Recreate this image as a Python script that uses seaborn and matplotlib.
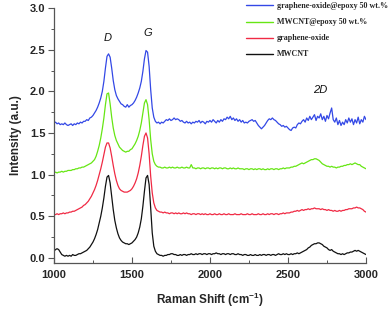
import matplotlib
matplotlib.use("Agg")
import matplotlib.pyplot as plt
import seaborn as sns
import pandas as pd
from matplotlib.ticker import MultipleLocator

shift = list(range(1000, 3001, 10))

mwcnt = [
    0.08, 0.10, 0.11, 0.10, 0.07, 0.04, 0.03, 0.02, 0.03, 0.02,
    0.03, 0.02, 0.04, 0.03, 0.03, 0.04, 0.05, 0.05, 0.06, 0.07,
    0.08, 0.09, 0.11, 0.13, 0.16, 0.19, 0.23, 0.28, 0.34, 0.42,
    0.50, 0.60, 0.72, 0.86, 0.97, 0.99, 0.90, 0.74, 0.58, 0.45,
    0.36, 0.29, 0.24, 0.21, 0.19, 0.18, 0.17, 0.17, 0.16, 0.17,
    0.18, 0.20, 0.22, 0.25, 0.30, 0.37, 0.47, 0.62, 0.80, 0.96,
    0.99, 0.88, 0.60, 0.30, 0.14, 0.08, 0.05, 0.04, 0.03, 0.03,
    0.02, 0.03, 0.03, 0.04, 0.04, 0.05, 0.05, 0.04, 0.04, 0.03,
    0.03, 0.04, 0.03, 0.04, 0.04, 0.03, 0.04, 0.04, 0.05, 0.04,
    0.04, 0.05, 0.04, 0.05, 0.05, 0.04, 0.05, 0.05, 0.04, 0.05,
    0.05, 0.04, 0.05, 0.05, 0.06, 0.05, 0.05, 0.04, 0.05, 0.05,
    0.04, 0.05, 0.05, 0.04, 0.05, 0.05, 0.04, 0.04, 0.05, 0.04,
    0.04, 0.03, 0.04, 0.04, 0.03, 0.03, 0.04, 0.03, 0.03, 0.04,
    0.03, 0.03, 0.04, 0.03, 0.04, 0.04, 0.03, 0.04, 0.04, 0.03,
    0.04, 0.04, 0.03, 0.04, 0.05, 0.04, 0.04, 0.05, 0.04, 0.05,
    0.04, 0.04, 0.05, 0.04, 0.05, 0.05, 0.06, 0.05, 0.06, 0.07,
    0.08, 0.09, 0.10, 0.12, 0.13, 0.15, 0.16, 0.17, 0.17, 0.18,
    0.18, 0.17, 0.16, 0.14, 0.13, 0.12, 0.10, 0.09, 0.10, 0.08,
    0.07, 0.06, 0.05, 0.05, 0.04, 0.05, 0.04, 0.05, 0.06, 0.06,
    0.07, 0.07, 0.08, 0.09, 0.08, 0.09, 0.08, 0.07, 0.06, 0.05,
    0.04,
]

graphene_oxide = [
    0.52, 0.52, 0.53, 0.52, 0.53, 0.53, 0.54, 0.53, 0.54, 0.54,
    0.55, 0.55, 0.56, 0.56, 0.57, 0.58, 0.59, 0.60, 0.61, 0.63,
    0.64, 0.66, 0.68, 0.71, 0.74, 0.78, 0.82, 0.87, 0.93, 1.00,
    1.07, 1.15, 1.24, 1.33, 1.38, 1.38, 1.32, 1.22, 1.11, 1.01,
    0.93, 0.87, 0.83, 0.81, 0.80, 0.79, 0.79, 0.79, 0.80, 0.81,
    0.83, 0.86, 0.90, 0.95, 1.02, 1.11, 1.22, 1.35, 1.46, 1.50,
    1.44, 1.25, 0.98, 0.78, 0.66, 0.60, 0.57, 0.56, 0.55, 0.55,
    0.54, 0.55, 0.54, 0.54, 0.53, 0.54, 0.54, 0.53, 0.54, 0.53,
    0.54, 0.53, 0.53, 0.54, 0.53, 0.54, 0.53, 0.53, 0.52, 0.53,
    0.53, 0.52, 0.53, 0.53, 0.52, 0.53, 0.52, 0.53, 0.52, 0.52,
    0.53, 0.52, 0.52, 0.53, 0.52, 0.52, 0.53, 0.52, 0.52, 0.53,
    0.52, 0.52, 0.53, 0.52, 0.52, 0.52, 0.53, 0.52, 0.52, 0.52,
    0.53, 0.52, 0.52, 0.52, 0.53, 0.52, 0.52, 0.53, 0.52, 0.52,
    0.52, 0.53, 0.52, 0.52, 0.53, 0.52, 0.52, 0.53, 0.52, 0.53,
    0.53, 0.52, 0.53, 0.53, 0.52, 0.53, 0.53, 0.54, 0.53, 0.54,
    0.54, 0.54, 0.55, 0.55, 0.56, 0.56, 0.57, 0.56, 0.57, 0.58,
    0.57, 0.58, 0.58, 0.59, 0.58, 0.59, 0.59, 0.60, 0.59, 0.59,
    0.59, 0.58, 0.59, 0.58, 0.58, 0.57, 0.58, 0.57, 0.57, 0.56,
    0.57, 0.56, 0.56, 0.57, 0.56, 0.57, 0.57, 0.58, 0.58, 0.59,
    0.59, 0.59, 0.60, 0.60, 0.61, 0.60, 0.60, 0.59, 0.58, 0.56,
    0.55,
]

mwcnt_epoxy = [
    1.02, 1.03, 1.02, 1.03, 1.03, 1.04, 1.03, 1.04, 1.04, 1.05,
    1.05, 1.05, 1.06, 1.06, 1.07, 1.07, 1.08, 1.08, 1.09, 1.09,
    1.10, 1.11, 1.12, 1.13, 1.14, 1.16, 1.18, 1.22, 1.28, 1.35,
    1.44, 1.55, 1.68, 1.84, 1.97, 1.98, 1.85, 1.69, 1.56, 1.47,
    1.41, 1.37, 1.33, 1.31, 1.29, 1.28, 1.27, 1.28, 1.28, 1.30,
    1.31, 1.34, 1.37, 1.41, 1.46, 1.53, 1.62, 1.74, 1.86, 1.90,
    1.84, 1.66, 1.42, 1.25, 1.16, 1.12, 1.10, 1.09, 1.09, 1.08,
    1.08, 1.09, 1.08, 1.08, 1.09, 1.08, 1.09, 1.08, 1.08, 1.09,
    1.08, 1.08, 1.09, 1.08, 1.08, 1.09, 1.08, 1.08, 1.12, 1.08,
    1.08, 1.07, 1.08, 1.08, 1.07, 1.08, 1.08, 1.07, 1.08, 1.08,
    1.07, 1.08, 1.08, 1.07, 1.08, 1.07, 1.08, 1.08, 1.07, 1.08,
    1.08, 1.07, 1.07, 1.08, 1.07, 1.08, 1.07, 1.07, 1.08, 1.07,
    1.07, 1.07, 1.06, 1.07, 1.07, 1.06, 1.07, 1.07, 1.06, 1.07,
    1.06, 1.07, 1.07, 1.06, 1.07, 1.06, 1.06, 1.07, 1.06, 1.07,
    1.07, 1.06, 1.07, 1.07, 1.06, 1.07, 1.07, 1.08, 1.07, 1.08,
    1.08, 1.08, 1.09, 1.09, 1.10, 1.10, 1.11, 1.12, 1.13, 1.14,
    1.13, 1.14, 1.15, 1.16, 1.17, 1.18, 1.18, 1.19, 1.19, 1.18,
    1.17, 1.15, 1.13, 1.12, 1.11, 1.10, 1.10, 1.09, 1.10, 1.09,
    1.09, 1.08, 1.09, 1.09, 1.10, 1.10, 1.11, 1.11, 1.12, 1.12,
    1.13, 1.12, 1.13, 1.14, 1.13, 1.12, 1.12, 1.10, 1.09, 1.08,
    1.07,
]

go_epoxy = [
    1.62, 1.63, 1.61, 1.62, 1.60, 1.61, 1.60, 1.62, 1.60, 1.59,
    1.60, 1.61, 1.59, 1.61, 1.60, 1.62, 1.61, 1.63, 1.62, 1.64,
    1.64, 1.66, 1.65, 1.68, 1.69, 1.71, 1.74, 1.77, 1.81, 1.86,
    1.92, 2.00, 2.12, 2.28, 2.42, 2.45, 2.41, 2.28, 2.13, 2.02,
    1.95, 1.91, 1.88, 1.85, 1.84, 1.82, 1.81, 1.84, 1.81, 1.83,
    1.84, 1.86, 1.89, 1.93, 1.98, 2.04, 2.12, 2.24, 2.39, 2.49,
    2.47, 2.30, 2.02, 1.80, 1.69, 1.64, 1.62, 1.63, 1.61, 1.63,
    1.62, 1.64, 1.66, 1.65, 1.67, 1.65, 1.66, 1.68, 1.66, 1.67,
    1.66, 1.64, 1.65, 1.63, 1.62, 1.64, 1.62, 1.63, 1.61, 1.63,
    1.62, 1.64, 1.63, 1.65, 1.62, 1.64, 1.63, 1.61, 1.64, 1.63,
    1.65, 1.63, 1.66, 1.64, 1.62, 1.65, 1.63, 1.66, 1.64, 1.67,
    1.66, 1.69, 1.67, 1.70, 1.66, 1.68, 1.65, 1.67, 1.64, 1.66,
    1.63, 1.65, 1.62, 1.63, 1.62, 1.64, 1.65, 1.66, 1.64, 1.65,
    1.62, 1.59, 1.57, 1.55, 1.57, 1.59, 1.62, 1.65, 1.67, 1.66,
    1.68, 1.66, 1.65, 1.63, 1.61, 1.60, 1.58, 1.59, 1.57, 1.58,
    1.56, 1.54, 1.53, 1.56, 1.57, 1.56, 1.60, 1.62, 1.61, 1.64,
    1.66, 1.63, 1.68, 1.65, 1.70, 1.66, 1.69, 1.72, 1.65, 1.70,
    1.68, 1.73, 1.66, 1.70, 1.64, 1.71, 1.67, 1.74, 1.80, 1.66,
    1.63, 1.68, 1.60, 1.65, 1.59, 1.63, 1.60, 1.66, 1.62, 1.68,
    1.63, 1.67, 1.60, 1.66, 1.62, 1.69, 1.61, 1.66, 1.63, 1.70,
    1.66,
]

labels = ["graphene-oxide@epoxy 50 wt.%", "MWCNT@epoxy 50 wt.%", "graphene-oxide", "MWCNT"]
series = [go_epoxy, mwcnt_epoxy, graphene_oxide, mwcnt]
colors = ["#3348e6", "#66e614", "#f02a44", "#111111"]

peak_labels = ["D", "G", "2D"]
peak_x = [1346, 1600, 2705]
peak_y = [2.64, 2.70, 2.02]

sns.set_style("ticks")
plt.rcParams["font.family"] = ["Liberation Sans", "DejaVu Sans"]

fig = plt.figure(figsize=(3.91, 3.10), dpi=100)
ax = fig.add_axes([0.138, 0.152, 0.798, 0.822])

for lab, vals, col in zip(labels, series, colors):
    df = pd.DataFrame({"shift": shift, "intensity": vals})
    sns.lineplot(data=df, x="shift", y="intensity", color=col, label=lab,
                 ax=ax, lw=0.9)

for t, x, y in zip(peak_labels, peak_x, peak_y):
    ax.text(x, y, t, fontsize=8, style="italic", ha="center", va="center",
            color="#111111")

ax.set_xlim(1000, 3000)
ax.set_ylim(-0.06, 3.0)
ax.xaxis.set_major_locator(MultipleLocator(500))
ax.xaxis.set_minor_locator(MultipleLocator(250))
ax.yaxis.set_major_locator(MultipleLocator(0.5))
ax.yaxis.set_minor_locator(MultipleLocator(0.25))

for s in ["top", "right"]:
    ax.spines[s].set_visible(False)
for s in ["left", "bottom"]:
    ax.spines[s].set_color("#555555")
    ax.spines[s].set_linewidth(0.9)

ax.tick_params(axis="y", which="major", direction="out", length=4, width=0.8,
               color="#555555", labelsize=8, pad=2)
ax.tick_params(axis="y", which="minor", direction="out", length=2.5, width=0.7,
               color="#555555")
ax.tick_params(axis="x", which="major", direction="in", length=4, width=0.8,
               color="#555555", labelsize=8, pad=5)
ax.tick_params(axis="x", which="minor", direction="in", length=2.5, width=0.7,
               color="#555555")
for lbl in ax.get_xticklabels() + ax.get_yticklabels():
    lbl.set_fontweight("bold")

ax.set_xlabel("Raman Shift (cm$^{\\mathregular{-1}}$)", fontsize=8.5, fontweight="bold", labelpad=8)
ax.set_ylabel("Intensity (a.u.)", fontsize=8.5, fontweight="bold", labelpad=6)

leg = ax.legend(loc="upper left", bbox_to_anchor=(245 / 391, 1 - 1.5 / 310),
                bbox_transform=fig.transFigure, frameon=False,
                prop={"family": "Liberation Serif", "weight": "bold", "size": 5.8},
                handlelength=3.4, handletextpad=0.45, labelspacing=1.0,
                borderpad=0.1, borderaxespad=0)
for line in leg.get_lines():
    line.set_linewidth(1.0)

fig.savefig("out.png", dpi=100)
